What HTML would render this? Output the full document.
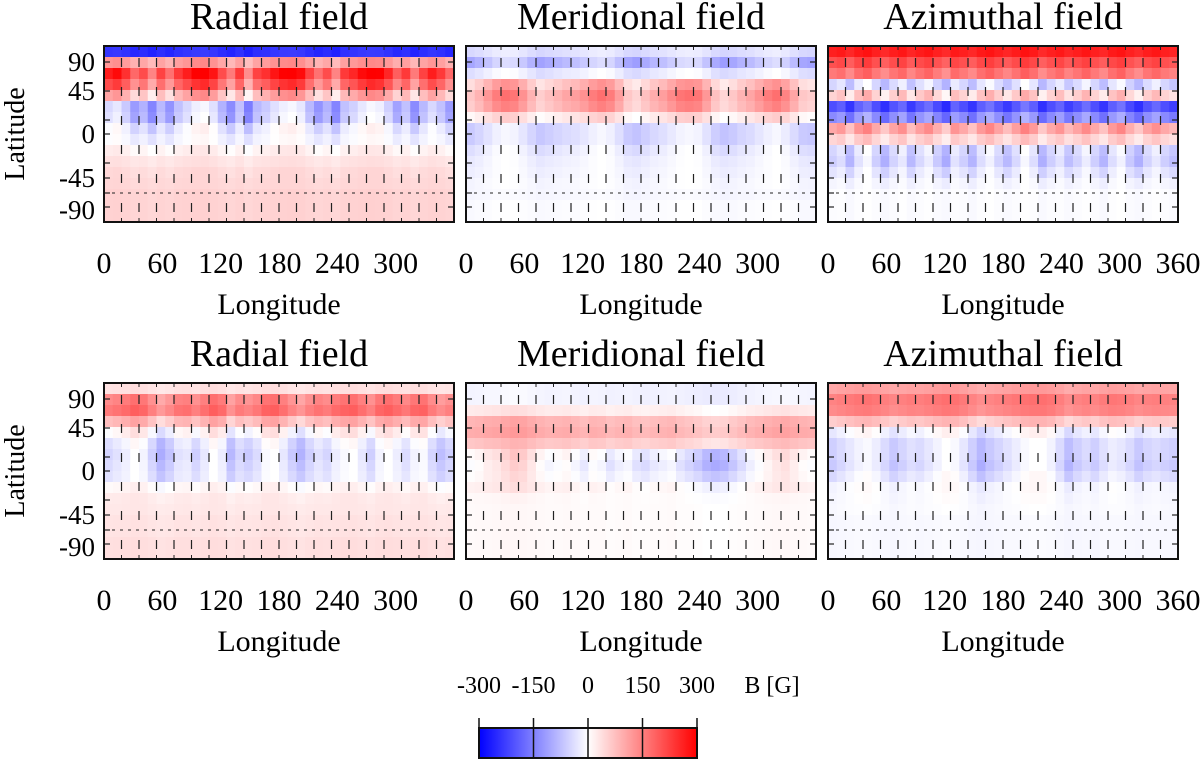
<!DOCTYPE html>
<html><head><meta charset="utf-8"><style>
body{margin:0;background:#fff;}
svg{display:block;font-family:"Liberation Serif",serif;}
</style></head><body>
<svg id="fig" width="1200" height="761" viewBox="0 0 1200 761"></svg>
<script>
// ---- data ----
const lonTicks = [0,60,120,180,240,300];
const lonTicksLast = [0,60,120,180,240,300,360];
const latTickLabels = ["90","45","0","-45","-90"];
const titles = ["Radial field","Meridional field","Azimuthal field","Radial field","Meridional field","Azimuthal field"];
const cbTickLabels = ["-300","-150","0","150","300"];
const cbTickValues = [-300,-150,0,150,300];
// per-panel latitude row base values (G), 16 rows from north to south
const rowBase1 = [-250,100,200,150,60,-100,-90,-40,-20,10,30,40,45,50,50,50];
const rowAmp1  = [20,40,110,100,80,90,90,60,30,20,10,10,5,5,5,5];
const rowBase2 = [-40,-90,-30,60,90,80,20,-50,-50,-30,-20,-15,-10,-10,-5,-5];
const rowAmp2  = [20,50,30,70,80,70,40,40,40,30,20,15,10,5,5,5];
const rowBase3 = [260,200,150,-60,40,-220,-150,90,40,-60,-70,-40,-15,-5,-5,-5];
const rowAmp3  = [20,30,40,60,60,60,60,60,40,60,60,40,15,5,5,5];
const rowBase4 = [30,120,140,60,-20,-60,-70,-60,-50,0,20,25,30,30,35,35];
const rowAmp4  = [10,50,50,50,60,70,70,60,50,20,10,5,5,5,5,5];
const rowBase5 = [-15,-15,20,80,90,60,-10,-20,-10,10,5,5,5,5,5,5];
const rowAmp5  = [10,10,20,30,30,30,80,80,60,30,10,5,5,5,5,5];
const rowBase6 = [100,140,130,50,-40,-70,-70,-80,-60,-20,-15,-10,-10,-10,-10,-10];
const rowAmp6  = [20,30,30,40,60,70,70,80,70,30,20,10,5,5,5,5];
// per-panel longitude patterns (40 columns, 9 deg each)
const colPat1 = [0.6,0.8,0.4,-0.2,0.1,-0.5,0.2,-0.3,0.3,0.6,0.9,1,0.7,0.1,-0.4,0.3,-0.6,0.2,0.4,0.7,0.9,1,0.8,0.2,-0.3,0.1,-0.5,0.3,0.5,0.8,1,0.9,0.5,-0.1,0.3,-0.4,0.2,0.6,0.3,-0.2];
const colPat2 = [-0.3,0,0.4,0.8,1,0.9,0.5,0,-0.4,-0.2,0,0.2,0.3,0.5,0.8,1,0.8,0.3,-0.3,-0.5,-0.2,0.1,0.3,0.6,0.9,1,0.9,0.4,-0.2,-0.5,-0.3,0,0.2,0.5,0.8,1,0.7,0.2,-0.3,-0.4];
const colPat3 = [0.2,0.5,-0.3,0.6,1,0.2,-0.4,0.3,0.7,-0.2,0.4,0.8,0.1,-0.5,0.6,0.2,-0.3,0.5,0.9,0.3,-0.2,0.4,1,0.5,-0.4,0.2,0.6,-0.1,0.3,0.8,0.2,-0.3,0.5,0.9,0.1,-0.4,0.3,0.7,0.2,-0.1];
const colPat4 = [0.3,0.5,0.7,1,0.8,0.2,-0.4,0,0.5,0.6,0.2,0.6,1,0.7,-0.2,0.3,0.1,0.4,0.9,1,0.6,0.1,-0.3,0.2,0.5,0.3,0.7,0.9,1,0.6,0.2,0.8,1,0.7,0.4,0.8,0.9,0.3,-0.1,0.2];
const colPat5 = [0.2,0.3,0.5,0.6,0.8,1,0.9,0.6,0.3,0.1,0.2,0.3,0.1,-0.1,0.2,0.1,-0.2,0,0.1,-0.2,-0.3,-0.1,0,0.1,-0.2,-0.4,-0.6,-0.9,-1,-0.9,-0.6,-0.3,0,0.2,0.4,0.6,0.7,0.5,0.3,0.2];
const colPat6 = [0.2,0.4,0.6,0.8,0.9,0.7,0.4,0.1,0.3,0.5,0.4,0.6,0.8,1,0.9,0.6,0.2,-0.2,0.1,0.3,0.5,0.7,0.9,1,1,0.8,0.4,-0.1,0.2,0.4,0.2,0.5,0.7,0.6,0.4,0.1,0.3,0.4,0.3,0.2];

const rowBases=[rowBase1,rowBase2,rowBase3,rowBase4,rowBase5,rowBase6];
const rowAmps=[rowAmp1,rowAmp2,rowAmp3,rowAmp4,rowAmp5,rowAmp6];
const colPats=[colPat1,colPat2,colPat3,colPat4,colPat5,colPat6];

const NS="http://www.w3.org/2000/svg";
const svg=document.getElementById('fig');
function mk(tag,attrs,parent){const e=document.createElementNS(NS,tag);for(const k in attrs)e.setAttribute(k,attrs[k]);(parent||svg).appendChild(e);return e;}
function color(v){v=Math.max(-300,Math.min(300,v));const t=v/300;
  if(t>=0){const c=Math.round(255*(1-t));return `rgb(255,${c},${c})`;}
  const c=Math.round(255*(1+t));return `rgb(${c},${c},255)`;}

const PX=[104,466,828], PW=350, PY=[46,383], PH=176;
const latRel=[16,45,88,132,164];
const xScale=(x0,lon)=>x0+lon/360*PW;

for(let p=0;p<6;p++){
  const x0=PX[p%3], y0=PY[Math.floor(p/3)];
  const g=mk('g',{});
   
  const rb=rowBases[p], ra=rowAmps[p], cp=colPats[p];
  const nr=rb.length, nc=cp.length, cw=PW/nc, rh=PH/nr;
  const hm=mk('g',{},g);
   
  for(let r=0;r<nr;r++)for(let c=0;c<nc;c++){
    const v=rb[r]+ra[r]*cp[c];
    const rc=mk('rect',{x:(x0+c*cw).toFixed(2),y:(y0+r*rh).toFixed(2),width:(cw+0.6).toFixed(2),height:(rh+0.6).toFixed(2),fill:color(v)},hm);
     
  }
  for(let i=1;i<20;i++){
    const x=x0+i*PW/20;
    const l=mk('line',{x1:x,x2:x,y1:y0+10,y2:y0+PH,stroke:'#222','stroke-width':1.2,'stroke-dasharray':'9 20','stroke-dashoffset':-2},g);
     
    mk('line',{x1:x,x2:x,y1:y0,y2:y0+4,stroke:'#222','stroke-width':1},g);
    mk('line',{x1:x,x2:x,y1:y0+PH-4,y2:y0+PH,stroke:'#222','stroke-width':1},g);
  }
  const dl=mk('line',{x1:x0,x2:x0+PW,y1:y0+147,y2:y0+147,stroke:'#222','stroke-width':1,'stroke-dasharray':'3 5'},g);
   
  [16,45,74,88,117,132,147,161].forEach(r=>{
    mk('line',{x1:x0,x2:x0+6,y1:y0+r,y2:y0+r,stroke:'#222','stroke-width':1.2},g);
    mk('line',{x1:x0+PW-6,x2:x0+PW,y1:y0+r,y2:y0+r,stroke:'#222','stroke-width':1.2},g);
  });
  const fr=mk('rect',{x:x0,y:y0,width:PW,height:PH,fill:'none',stroke:'#111','stroke-width':2},g);
   
  const t=mk('text',{x:x0+PW/2,y:y0-17,'text-anchor':'middle','font-size':38},g);
  t.textContent=titles[p];  
  const ticks=(p%3==2)?lonTicksLast:lonTicks;
  ticks.forEach(v=>{
    const tx=mk('text',{x:xScale(x0,v),y:y0+PH+51,'text-anchor':'middle','font-size':30},g);
    tx.textContent=v;  
  });
  const xl=mk('text',{x:x0+PW/2,y:y0+PH+92,'text-anchor':'middle','font-size':30},g);
  xl.textContent='Longitude';  
  if(p%3==0){
    latTickLabels.forEach((s,i)=>{
      const ty=mk('text',{x:x0-9,y:y0+latRel[i]+9,'text-anchor':'end','font-size':27},g);
      ty.textContent=s;  
    });
    const yl=mk('text',{x:0,y:0,'text-anchor':'middle','font-size':28,transform:`translate(24,${y0+PH/2}) rotate(-90)`},g);
    yl.textContent='Latitude';  
  }
}
// colorbar
const CX=479,CW=218,CY=728,CH=30;
const cb=mk('g',{});
 
const defs=mk('defs',{},svg);
const grad=mk('linearGradient',{id:'cbg',x1:0,x2:1,y1:0,y2:0},defs);
mk('stop',{offset:'0',  'stop-color':color(-300)},grad);
mk('stop',{offset:'0.5','stop-color':color(0)},grad);
mk('stop',{offset:'1',  'stop-color':color(300)},grad);
mk('rect',{x:CX,y:CY,width:CW,height:CH,fill:'url(#cbg)',stroke:'#111','stroke-width':2},cb);
const cbx=v=>CX+(v+300)/600*CW;
cbTickValues.forEach((v,i)=>{
  const x=cbx(v);
  mk('line',{x1:x,x2:x,y1:CY-10,y2:CY+CH,stroke:'#111','stroke-width':1.5},cb);
  const t=mk('text',{x:x,y:CY-35,'text-anchor':'middle','font-size':24},cb);
  t.textContent=cbTickLabels[i];  
});
const bl=mk('text',{x:772,y:CY-35,'text-anchor':'middle','font-size':24},cb);
bl.textContent='B [G]';  
</script>
</body></html>
